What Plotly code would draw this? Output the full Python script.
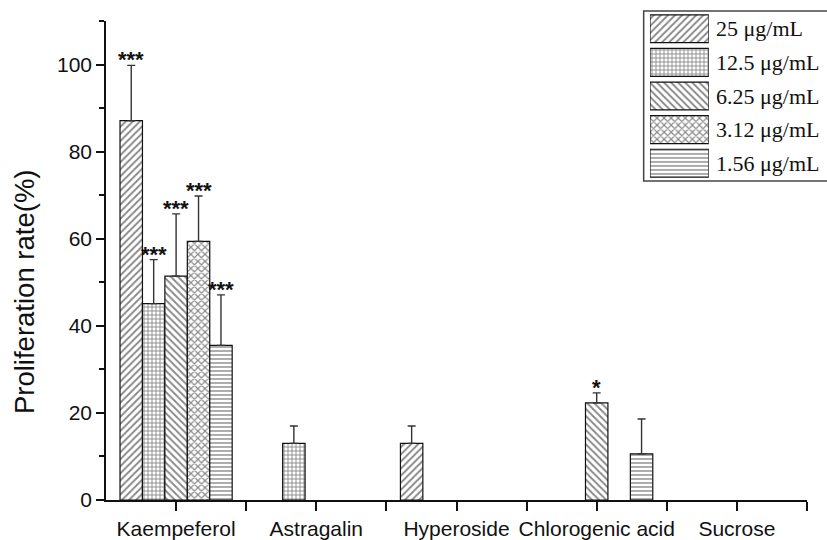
import plotly.graph_objects as go

# Compounds on the x axis (numeric positions 0..4, labelled below)
compounds = ["Kaempeferol", "Astragalin", "Hyperoside", "Chlorogenic acid", "Sucrose"]
concentrations = ["25 μg/mL", "12.5 μg/mL", "6.25 μg/mL", "3.12 μg/mL", "1.56 μg/mL"]

# Mean proliferation rate (%) for each concentration across compounds
rate_25 = [87.1, None, 13.0, None, None]
rate_12_5 = [45.1, 13.0, None, None, None]
rate_6_25 = [51.4, None, None, 22.3, None]
rate_3_12 = [59.4, None, None, None, None]
rate_1_56 = [35.5, None, None, 10.6, None]

# Upper error (SD)
err_25 = [12.7, None, 4.0, None, None]
err_12_5 = [10.1, 4.0, None, None, None]
err_6_25 = [14.3, None, None, 2.3, None]
err_3_12 = [10.4, None, None, None, None]
err_1_56 = [11.6, None, None, 8.0, None]

# Significance marks
sig_25 = ["***", None, None, None, None]
sig_12_5 = ["***", None, None, None, None]
sig_6_25 = ["***", None, None, "*", None]
sig_3_12 = ["***", None, None, None, None]
sig_1_56 = ["***", None, None, None, None]

rates = [rate_25, rate_12_5, rate_6_25, rate_3_12, rate_1_56]
errs = [err_25, err_12_5, err_6_25, err_3_12, err_1_56]
sigs = [sig_25, sig_12_5, sig_6_25, sig_3_12, sig_1_56]
patterns = ["/", "+", "\\", "x", "-"]
pattern_sizes = [5, 4, 5, 5, 4]
pattern_solidity = [0.38, 0.4, 0.38, 0.42, 0.35]

BARGAP = 0.2
n_series = len(concentrations)
bar_w = (1 - BARGAP) / n_series
x_pos = list(range(len(compounds)))
INK = "#111111"

fig = go.Figure()

for i, name in enumerate(concentrations):
    fig.add_trace(go.Bar(
        x=x_pos, y=rates[i], name=name, showlegend=False,
        marker=dict(
            color="white",
            line=dict(color=INK, width=1.2),
            pattern=dict(shape=patterns[i], fgcolor=INK, bgcolor="white",
                         size=pattern_sizes[i], solidity=pattern_solidity[i]),
        ),
        error_y=dict(type="data", symmetric=False, array=errs[i],
                     arrayminus=[0 if v is not None else None for v in errs[i]],
                     color="#333333", thickness=1.4, width=4),
    ))
    # significance marks above the error bars
    offset = (i - (n_series - 1) / 2) * bar_w
    for j, s in enumerate(sigs[i]):
        if s and rates[i][j] is not None:
            fig.add_annotation(
                x=x_pos[j] + offset, y=rates[i][j] + errs[i][j],
                xref="x", yref="y", text="<b>" + s + "</b>", showarrow=False,
                yanchor="bottom", yshift=-9,
                font=dict(family="Liberation Sans", size=22, color=INK),
            )

# Legend drawn on an inset axis so swatches show the full hatch pattern
leg_rows = list(range(n_series))
fig.add_trace(go.Bar(
    x=[1] * n_series, y=leg_rows, orientation="h", width=0.83,
    xaxis="x2", yaxis="y2", showlegend=False, hoverinfo="skip",
    marker=dict(
        color="white",
        line=dict(color=INK, width=1.2),
        pattern=dict(shape=patterns, fgcolor=INK, bgcolor="white",
                     size=pattern_sizes, solidity=pattern_solidity),
    ),
))
for r, name in zip(leg_rows, concentrations):
    fig.add_annotation(
        x=0.867, y=r, xref="paper", yref="y2", text=name, showarrow=False,
        xanchor="left", yanchor="middle",
        font=dict(family="Liberation Serif", size=22, color=INK),
    )

# legend frame
fig.add_shape(type="rect", xref="paper", yref="paper",
              x0=0.767, x1=1.05, y0=0.651, y1=0.998,
              line=dict(color="#444444", width=1.5), fillcolor="rgba(0,0,0,0)")

# y-axis title, sitting slightly below the axis midpoint
fig.add_annotation(
    x=-0.1155, y=0.4245, xref="paper", yref="paper",
    text="Proliferation rate(%)", textangle=-90, showarrow=False,
    xanchor="center", yanchor="middle",
    font=dict(family="Liberation Sans", size=27.5, color=INK),
)

tick_vals = [v / 2 for v in range(0, 2 * len(compounds))]
tick_text = [compounds[int(v)] if v == int(v) else "" for v in tick_vals]

fig.update_layout(
    width=827, height=540,
    margin=dict(l=106, r=20, t=10, b=40, autoexpand=False),
    paper_bgcolor="white", plot_bgcolor="white",
    barmode="group", bargap=BARGAP, bargroupgap=0,
    font=dict(family="Liberation Sans", color=INK),
    xaxis=dict(
        range=[-0.5, 4.5], showline=True, linecolor=INK, linewidth=1.5,
        tickmode="array", tickvals=tick_vals, ticktext=tick_text,
        ticks="outside", ticklen=9, tickwidth=1.5, tickcolor=INK,
        automargin=False,
        tickfont=dict(size=21, family="Liberation Sans"),
        showgrid=False, zeroline=False,
    ),
    yaxis=dict(
        domain=[0, 0.9776], range=[0, 110],
        showline=True, linecolor=INK, linewidth=1.5,
        tickmode="linear", tick0=0, dtick=20,
        ticks="outside", ticklen=8, tickwidth=1.5, tickcolor=INK,
        minor=dict(tick0=0, dtick=10, ticks="outside",
                   ticklen=5, tickwidth=1.5, tickcolor=INK),
        tickfont=dict(size=21, family="Liberation Sans"),
        showgrid=False, zeroline=False, automargin=False,
    ),
    xaxis2=dict(domain=[0.776, 0.860], range=[0, 1], visible=False,
                anchor="y2", fixedrange=True),
    yaxis2=dict(domain=[0.653, 0.996], range=[4.5, -0.5], visible=False,
                anchor="x2", fixedrange=True),
)

fig.write_html("out.html")
